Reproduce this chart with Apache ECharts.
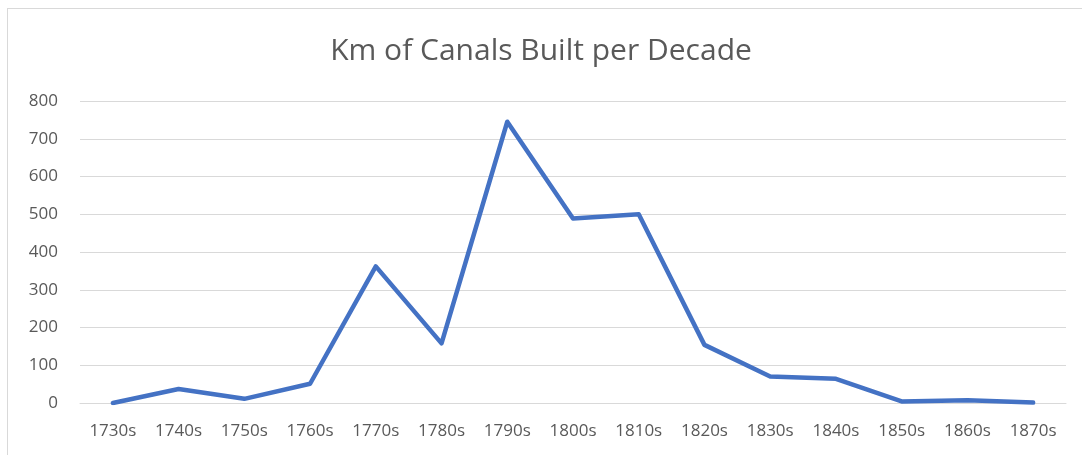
<!DOCTYPE html>
<html>
<head>
<meta charset="utf-8">
<script src="https://cdn.jsdelivr.net/npm/echarts@6/dist/echarts.min.js"></script>
<style>
    html, body { margin: 0; padding: 0; background: #fff; }
    #frame { position: absolute; left: 7px; top: 8px; width: 1082px; height: 455px; border: 1px solid #d9d9d9; box-sizing: border-box; }
    #container { position: absolute; left: 0; top: 0; width: 1082px; height: 455px; }
</style>
</head>
<body>
<div id="frame"></div>
<div id="container"></div>
<script>
// decades and km of canals built
var decades = ['1730s', '1740s', '1750s', '1760s', '1770s', '1780s', '1790s', '1800s',
    '1810s', '1820s', '1830s', '1840s', '1850s', '1860s', '1870s'];
var kmBuilt = [0, 37, 11, 51, 362, 158, 745, 489, 500, 154, 70, 64, 4, 7, 1];
var yTicks = [0, 100, 200, 300, 400, 500, 600, 700, 800];

var dom = document.getElementById("container");
var myChart = echarts.init(dom);

var option = {
    animation: false,
    title: {
        text: 'Km of Canals Built per Decade',
        left: 'center',
        top: 31,
        textStyle: {
            fontFamily: 'Open Sans',
            fontWeight: 'normal',
            fontSize: 30,
            color: '#595959'
        }
    },
    grid: {
        left: 80,
        right: 16,
        top: 101,
        bottom: 52
    },
    xAxis: {
        type: 'category',
        data: decades,
        boundaryGap: true,
        axisLine: { lineStyle: { color: '#d9d9d9' } },
        axisTick: { show: false },
        axisLabel: {
            color: '#595959',
            fontFamily: 'Open Sans',
            fontSize: 17,
            margin: 20
        }
    },
    yAxis: {
        type: 'value',
        min: yTicks[0],
        max: yTicks[yTicks.length - 1],
        interval: 100,
        axisLine: { show: false },
        axisTick: { show: false },
        splitLine: { lineStyle: { color: '#d9d9d9', width: 1 } },
        axisLabel: {
            color: '#595959',
            fontFamily: 'Open Sans',
            fontSize: 17,
            margin: 22
        }
    },
    series: [{
        name: 'Km built',
        type: 'line',
        data: kmBuilt,
        symbol: 'none',
        lineStyle: { color: '#4472c4', width: 4.5, join: 'round', cap: 'round' }
    }]
};

myChart.setOption(option);
</script>
</body>
</html>
